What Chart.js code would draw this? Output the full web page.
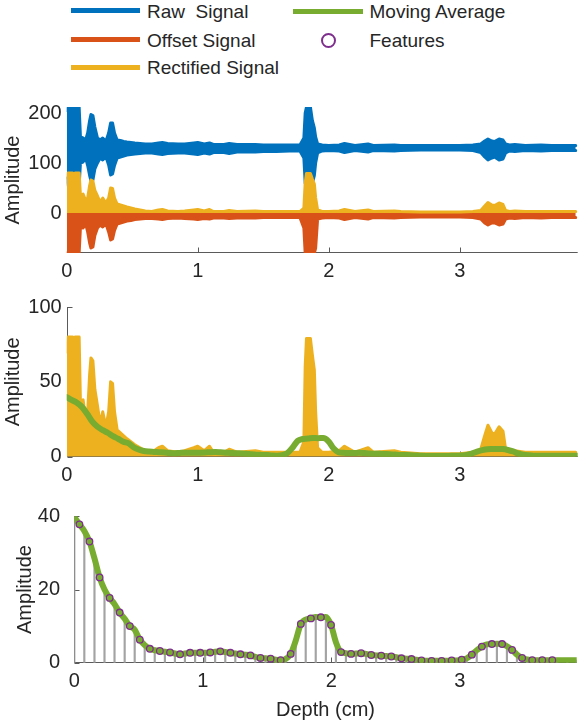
<!DOCTYPE html>
<html><head><meta charset="utf-8">
<script src="https://cdn.jsdelivr.net/npm/chart.js@4"></script>
<style>
html,body{margin:0;padding:0;background:#fff;}
body{width:582px;height:723px;position:relative;overflow:hidden;font-family:"Liberation Sans",Arial,sans-serif;}
canvas{position:absolute;left:0;}
.lt{position:absolute;font-size:19px;line-height:21px;color:#262626;white-space:pre;}
.ls{position:absolute;height:5px;}
.lc{position:absolute;width:11px;height:11px;border:2px solid #7E2F8E;border-radius:50%;}
</style></head><body>
<div id="legend"></div>
<canvas id="c1" width="582" height="200" style="top:90px"></canvas>
<canvas id="c2" width="582" height="200" style="top:290px"></canvas>
<canvas id="c3" width="582" height="233" style="top:490px"></canvas>
<script>
// ---------- data ----------
const depthTicks = [0, 1, 2, 3];
const topYTicks = [0, 100, 200];
const midYTicks = [0, 50, 100];
const botYTicks = [0, 20, 40];
const legendLabels = ['Raw  Signal', 'Offset Signal', 'Rectified Signal', 'Moving Average', 'Features'];

// envelope of the dense signals (depth in cm)
const envDepth = [0,0.01,0.045,0.055,0.065,0.095,
  0.105,0.125,0.145,0.16,0.175,0.185,0.2,0.215,0.235,0.255,
  0.275,0.3,0.32,0.335,0.35,0.365,0.385,0.41,0.435,0.46,
  0.49,0.52,0.56,0.6,0.65,0.7,0.73,0.77,0.85,0.9,
  0.97,1.0,1.05,1.09,1.12,1.2,1.24,1.3,1.44,1.5,
  1.6,1.7,1.78,1.81,1.82,1.83,1.86,1.875,1.89,1.9,
  1.915,1.95,2.0,2.08,2.12,2.16,2.2,2.3,2.34,2.5,
  2.55,2.7,3.0,3.1,3.16,3.19,3.215,3.245,3.265,3.3,
  3.33,3.35,3.38,3.42,3.5,3.62,3.7,3.885];
const rawHigh = [205,212,212,212,212,212,
  152,150,146,160,185,197,195,172,150,146,
  150,144,160,180,180,160,146,145,143,142,
  141,140,139,138,138,140,141,139,138,138,
  140,141,138,140,137,137,139,137,137,136,
  136,136,136,150,200,212,212,185,170,152,
  138,136,135,136,139,137,135,138,135,136,
  135,135,135,136,138,144,148,144,143,148,
  146,138,136,137,135,136,135,135];
const rawLow = [70,55,55,60,55,55,
  100,102,110,95,75,65,66,88,100,110,
  106,112,96,76,78,95,110,112,114,116,
  117,118,119,120,120,118,117,119,120,120,
  118,117,120,118,121,121,119,122,122,123,
  123,124,124,110,60,50,50,60,75,100,
  120,124,125,124,121,123,125,122,125,124,
  125,126,126,125,121,112,106,110,112,106,
  108,120,124,123,125,124,125,125];
const offsetLow = [-80,-80,-80,-80,-80,-80,
  -28,-30,-22,-38,-60,-70,-68,-45,-30,-24,
  -28,-22,-38,-54,-52,-35,-22,-20,-18,-16,
  -15,-13,-12,-11,-11,-12,-13,-11,-10,-11,
  -12,-13,-11,-12,-10,-10,-11,-10,-10,-9,
  -9,-9,-9,-30,-80,-80,-80,-80,-80,-70,
  -12,-10,-9,-10,-13,-11,-9,-12,-9,-10,
  -9,-8,-8,-9,-12,-20,-24,-20,-20,-24,
  -22,-12,-10,-11,-9,-10,-9,-9];
const rectHigh = [70,80,80,70,80,80,
  35,38,25,30,55,66,64,45,34,22,
  30,20,30,50,49,30,18,16,14,12,
  10,8,6,4,3,6,7,4,3,4,
  6,7,4,7,3,3,5,3,4,3,
  3,3,3,10,60,79,79,68,58,30,
  6,3,3,4,7,5,3,6,3,4,
  3,2,2,3,5,14,21,16,15,20,
  17,5,3,4,3,3,3,3];

// moving average: window edges (stems) and window centres (features)
const edgeDepth = [0,0.078,0.157,0.235,0.313,0.392,0.47,0.548,0.626,0.705,
  0.783,0.861,0.94,1.018,1.096,1.175,1.253,1.331,1.409,1.488,
  1.566,1.644,1.723,1.801,1.879,1.958,2.036,2.114,2.192,2.271,
  2.349,2.427,2.506,2.584,2.662,2.741,2.819,2.897,2.975,3.054,
  3.132,3.21,3.289,3.367,3.445,3.524,3.602,3.68,3.758,3.837,3.91];
const edgeAvg = [39.8,36,28.5,20,16,12,9,4.8,3.4,3,
  2.5,2.5,2.7,2.7,3,2.9,2.5,2.2,1.6,1.2,
  0.8,1.0,6,11.8,12.5,12.5,5.6,2.6,2.5,2.4,
  2,1.8,1.5,1.1,0.8,0.5,0.5,0.5,0.6,1.2,
  3.4,5,5.2,4.5,2.2,0.9,0.7,0.7,0.7,0.7,0.7];
const featureDepth = [0.040,0.118,0.197,0.275,0.353,0.432,0.510,0.588,0.666,0.745,
  0.823,0.901,0.980,1.058,1.136,1.215,1.293,1.371,1.449,1.528,
  1.606,1.684,1.763,1.841,1.919,1.998,2.076,2.154,2.232,2.311,
  2.389,2.467,2.546,2.624,2.702,2.781,2.859,2.937,3.015,3.094,
  3.172,3.250,3.329,3.407,3.485,3.564,3.642,3.720];
const featureAvg = [37.8,33.1,23.3,17.7,13.7,10.0,6.3,3.8,3.2,2.8,
  2.3,2.7,2.7,2.8,3.1,2.7,2.3,2.0,1.3,1.1,
  0.7,2.4,10.6,12.1,12.4,10.3,2.9,2.4,2.6,2.1,
  1.9,1.7,1.2,1.0,0.6,0.5,0.5,0.6,0.8,2.2,
  4.4,5.1,5.1,3.5,1.3,0.7,0.7,0.7];

// ---------- styles ----------
const FONT = 'Liberation Sans';
const TXT = '#262626';
const BLUE = '#0072BD', ORANGE = '#D95319', YELLOW = '#EDB120', GREEN = '#77AC30', PURPLE = '#7E2F8E';

function pts(xs, ys) { return xs.map((x, i) => ({x: x, y: ys[i]})); }
const avgLine = pts(edgeDepth, edgeAvg).concat(pts(featureDepth, featureAvg)).sort((a, b) => a.x - b.x);

// ---------- legend (HTML text) ----------
(function () {
  const lg = document.getElementById('legend');
  const kinds = [
    {c: BLUE, sx: 71, sw: 69, ly: 10, tx: 147, ty: 1.2},
    {c: ORANGE, sx: 71, sw: 69, ly: 39.3, tx: 147, ty: 29.6},
    {c: YELLOW, sx: 71, sw: 69, ly: 67.7, tx: 147, ty: 56.9},
    {c: GREEN, sx: 293, sw: 70, ly: 11, tx: 369.5, ty: 1.2},
    {c: null, cx: 328.3, ly: 40, tx: 369.5, ty: 29.6}
  ];
  kinds.forEach((k, i) => {
    if (k.c) {
      const s = document.createElement('div'); s.className = 'ls';
      s.style.left = k.sx + 'px'; s.style.width = k.sw + 'px'; s.style.top = (k.ly - 2.5) + 'px'; s.style.background = k.c;
      lg.appendChild(s);
    } else {
      const c = document.createElement('div'); c.className = 'lc';
      c.style.left = (k.cx - 7.5) + 'px'; c.style.top = (k.ly - 7.5) + 'px';
      lg.appendChild(c);
    }
    const t = document.createElement('div'); t.className = 'lt';
    t.style.left = k.tx + 'px'; t.style.top = k.ty + 'px'; t.textContent = legendLabels[i];
    lg.appendChild(t);
  });
})();

// ---------- axes drawn MATLAB-style (inward ticks) ----------
const axisPlugin = {
  id: 'matlabAxes',
  beforeDatasetsDraw(chart) {
    const ctx = chart.ctx, a = chart.chartArea, xs = chart.scales.x, ys = chart.scales.y;
    const L = Math.round(a.left) + 0.5, B = Math.round(a.bottom) - 0.5;
    ctx.save();
    ctx.strokeStyle = '#5a5a5a'; ctx.lineWidth = 1;
    ctx.beginPath();
    ctx.moveTo(L, B); ctx.lineTo(a.right, B);
    ctx.moveTo(L, a.top); ctx.lineTo(L, B);
    xs.ticks.forEach(t => { const p = Math.round(xs.getPixelForValue(t.value)) + 0.5; ctx.moveTo(p, B); ctx.lineTo(p, B - 5); });
    ys.ticks.forEach(t => { const p = Math.round(ys.getPixelForValue(t.value)) + 0.5; ctx.moveTo(L, p); ctx.lineTo(L + 5, p); });
    ctx.stroke();
    ctx.restore();
  }
};

function options(o) {
  const tickFont = {family: FONT, size: 20, lineHeight: 1.2};
  const titleFont = {family: FONT, size: 20, lineHeight: 1.2};
  return {
    responsive: false, animation: false, devicePixelRatio: 1, events: [],
    layout: {padding: {left: 0, right: o.padR, top: o.padT, bottom: 0}},
    plugins: {legend: {display: false}, tooltip: {enabled: false}},
    elements: {line: {tension: 0, borderJoinStyle: 'round', borderCapStyle: 'round'}, point: {radius: 0}},
    scales: {
      x: {
        type: 'linear', min: 0, max: o.xMax, offset: false,
        afterBuildTicks: s => { s.ticks = depthTicks.map(v => ({value: v})); },
        afterFit: s => { s.height = o.xH; },
        grid: {display: false, drawTicks: false},
        border: {display: false},
        ticks: {padding: 6.8, color: TXT, font: tickFont, maxRotation: 0, minRotation: 0, autoSkip: false, callback: v => String(v)},
        title: o.xTitle ? {display: true, text: o.xTitle, color: TXT, font: titleFont, padding: {top: 0, bottom: 1}} : {display: false}
      },
      y: {
        type: 'linear', min: o.yMin, max: o.yMax,
        afterBuildTicks: s => { s.ticks = o.yTicks.map(v => ({value: v})); },
        afterFit: s => { s.width = o.yW; },
        grid: {display: false, drawTicks: false},
        border: {display: false},
        ticks: {padding: o.yPad, color: TXT, font: tickFont, autoSkip: false, callback: v => String(v)},
        title: {display: true, text: 'Amplitude', color: TXT, font: titleFont, padding: {top: o.yTitlePad, bottom: 0}}
      }
    }
  };
}

// ---------- top: raw / offset / rectified ----------
new Chart(document.getElementById('c1'), {
  type: 'line',
  data: {datasets: [
    {data: pts(envDepth, rawLow), borderColor: BLUE, borderWidth: 3, pointRadius: 0, fill: false, order: 4},
    {data: pts(envDepth, rawHigh), borderColor: BLUE, backgroundColor: BLUE, borderWidth: 3, pointRadius: 0, fill: '-1', order: 3},
    {data: pts(envDepth, offsetLow), borderColor: ORANGE, backgroundColor: ORANGE, borderWidth: 3, pointRadius: 0, fill: 'origin', order: 2},
    {data: pts(envDepth, rectHigh), borderColor: YELLOW, backgroundColor: YELLOW, borderWidth: 3, pointRadius: 0, fill: 'origin', order: 1}
  ]},
  options: options({padR: 4.3, padT: 11, xMax: 3.9, xH: 37, yMin: -80, yMax: 212, yTicks: topYTicks, yW: 66.7, yPad: 5, yTitlePad: 1}),
  plugins: [axisPlugin]
});

// ---------- middle: rectified + moving average ----------
new Chart(document.getElementById('c2'), {
  type: 'line',
  data: {datasets: [
    {data: pts(envDepth, rectHigh), borderColor: YELLOW, backgroundColor: YELLOW, borderWidth: 3, pointRadius: 0, fill: 'origin', order: 2},
    {data: avgLine, borderColor: GREEN, borderWidth: 6, pointRadius: 0, fill: false, cubicInterpolationMode: 'monotone', order: 1}
  ]},
  options: options({padR: 4.3, padT: 16.7, xMax: 3.9, xH: 33.3, yMin: 0, yMax: 100, yTicks: midYTicks, yW: 66.7, yPad: 5, yTitlePad: 1}),
  plugins: [axisPlugin]
});

// ---------- bottom: moving average, stems, features ----------
new Chart(document.getElementById('c3'), {
  type: 'line',
  data: {datasets: [
    {type: 'bar', data: pts(edgeDepth, edgeAvg), backgroundColor: '#a3a3a3', barThickness: 1.5, order: 3},
    {data: avgLine, borderColor: GREEN, borderWidth: 6, pointRadius: 0, fill: false, cubicInterpolationMode: 'monotone', order: 2},
    {data: pts(featureDepth, featureAvg), showLine: false, pointRadius: 3.3, pointBorderWidth: 1.3,
     pointBorderColor: PURPLE, pointBackgroundColor: GREEN, order: 1}
  ]},
  options: options({padR: 4.3, padT: 21.7, xMax: 3.91, xH: 60.3, yMin: 0, yMax: 40, yTicks: botYTicks, yW: 74.3, yPad: 14.3, yTitlePad: 13, xTitle: 'Depth (cm)'}),
  plugins: [axisPlugin]
});
</script>
</body></html>
